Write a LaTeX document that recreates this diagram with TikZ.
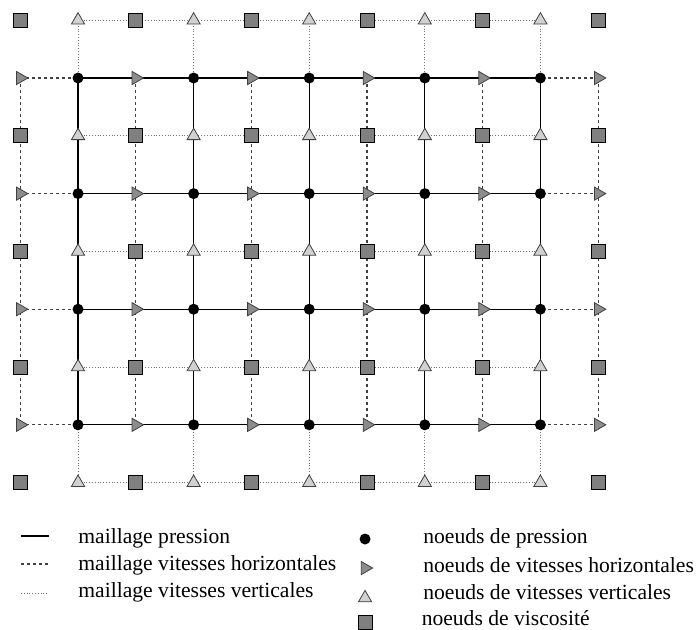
\documentclass[tikz,border=0pt]{standalone}
\usepackage{fontspec}
\setmainfont{Liberation Serif}
\usetikzlibrary{shapes.geometric,backgrounds}

\tikzset{
  pnode/.style={circle,fill=black,inner sep=0pt,minimum size=5.5pt},
  unode/.style={regular polygon,regular polygon sides=3,shape border rotate=-90,
    draw=black!75,fill=black!45,inner sep=0pt,minimum size=7.6pt,line width=0.4pt},
  vnode/.style={regular polygon,regular polygon sides=3,
    draw=black!75,fill=black!18,inner sep=0pt,minimum size=7.6pt,line width=0.4pt},
  snode/.style={rectangle,draw=black,fill=black!50,inner sep=0pt,minimum size=7pt,line width=0.5pt},
  pmesh/.style={black,line width=0.6pt},
  umesh/.style={black!75,line width=0.55pt,dash pattern=on 1.6pt off 1.4pt},
  vmesh/.style={black!55,line width=0.45pt,dash pattern=on 0.5pt off 0.9pt},
  legtext/.style={anchor=west,inner sep=0pt,font=\fontsize{10.8}{13}\selectfont}
}

\begin{document}
\begin{tikzpicture}[x=57.8pt,y=57.8pt]
  \useasboundingbox (-0.675,0.675) rectangle (5.346,-4.775);
  % nodes of the staggered grid
  \foreach \i in {0,...,4} \foreach \j in {0,...,3}
    \node[pnode] (p-\i-\j) at (\i,-\j) {};
  \foreach \i in {0,...,5} \foreach \j in {0,...,3}
    \node[unode] (u-\i-\j) at (\i-0.5,-\j) {};
  \foreach \i in {0,...,4} \foreach \j in {0,...,4}
    \node[vnode] (v-\i-\j) at (\i,-\j+0.5) {};
  \foreach \i in {0,...,5} \foreach \j in {0,...,4}
    \node[snode] (s-\i-\j) at (\i-0.5,-\j+0.5) {};
  % meshes, under the nodes
  \begin{scope}[on background layer]
    \foreach \j in {0,...,4} \draw[vmesh] (v-0-\j.center) -- (v-4-\j.center);
    \foreach \i in {0,...,4} \draw[vmesh] (v-\i-0.center) -- (v-\i-4.center);
    \foreach \j in {0,...,3} \draw[umesh] (u-0-\j.center) -- (u-5-\j.center);
    \foreach \i in {0,...,5} \draw[umesh] (u-\i-0.center) -- (u-\i-3.center);
    \foreach \j in {0,...,3} \draw[pmesh] (p-0-\j.center) -- (p-4-\j.center);
    \foreach \i in {0,...,4} \draw[pmesh] (p-\i-0.center) -- (p-\i-3.center);
  \end{scope}
  % legend
  \coordinate (la1) at (-0.493,-3.962); \coordinate (lb1) at (-0.251,-3.962);
  \coordinate (la2) at (-0.493,-4.204); \coordinate (lb2) at (-0.251,-4.204);
  \coordinate (la3) at (-0.493,-4.455); \coordinate (lb3) at (-0.251,-4.455);
  \draw[pmesh] (la1) -- (lb1);
  \draw[umesh] (la2) -- (lb2);
  \draw[vmesh] (la3) -- (lb3);
  \node[legtext] (t1) at (0,-3.979) {maillage pression};
  \node[legtext] (t2) at (0,-4.213) {maillage vitesses horizontales};
  \node[legtext] (t3) at (0,-4.446) {maillage vitesses verticales};
  \node[pnode] (m1) at (2.483,-3.988) {};
  \node[unode] (m2) at (2.483,-4.239) {};
  \node[vnode] (m3) at (2.483,-4.498) {};
  \node[snode] (m4) at (2.483,-4.706) {};
  \node[legtext] (n1) at (2.984,-3.979) {noeuds de pression};
  \node[legtext] (n2) at (2.984,-4.213) {noeuds de vitesses horizontales};
  \node[legtext] (n3) at (2.984,-4.446) {noeuds de vitesses verticales};
  \node[legtext] (n4) at (2.970,-4.671) {noeuds de viscosité};
\end{tikzpicture}
\end{document}
